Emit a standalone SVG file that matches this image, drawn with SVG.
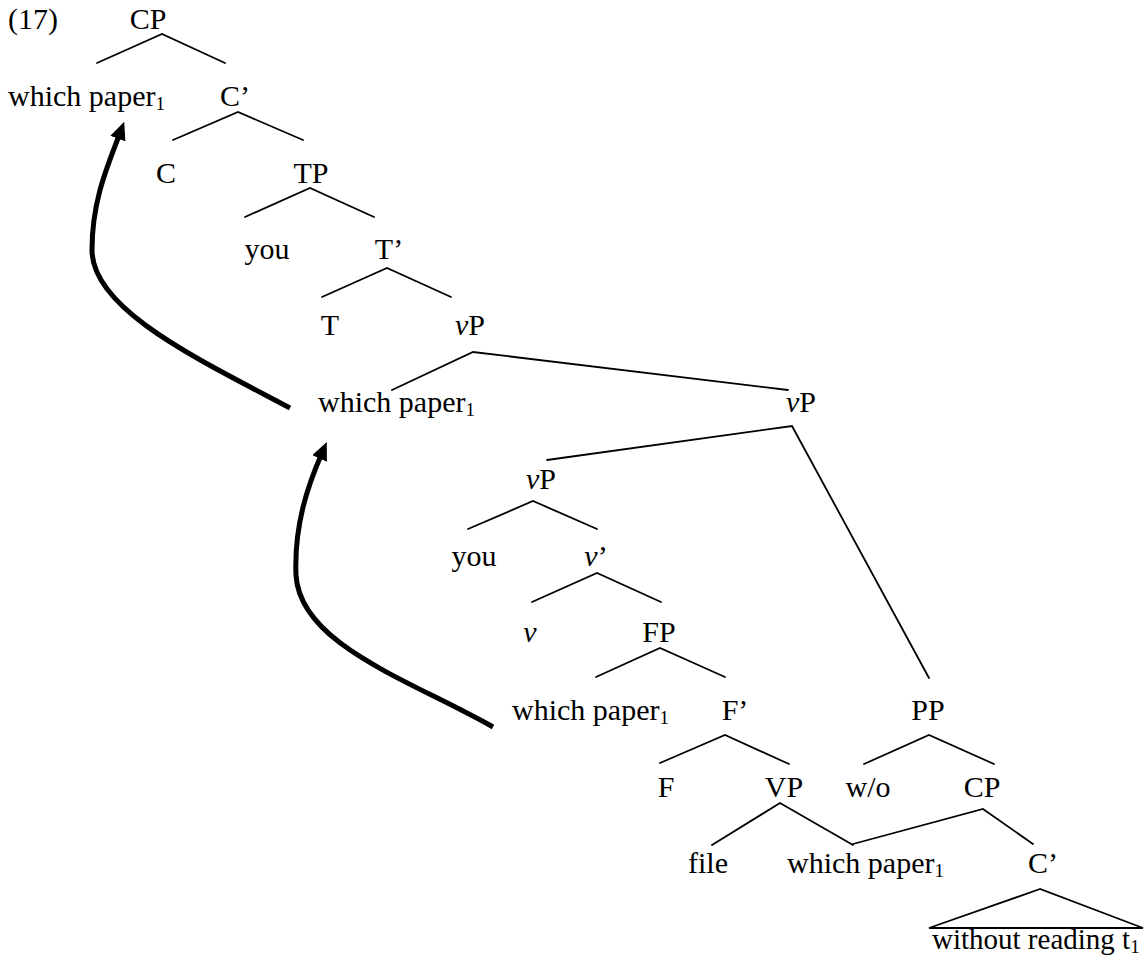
<svg xmlns="http://www.w3.org/2000/svg" width="1145" height="960" viewBox="0 0 1145 960">
<style>
text{font-family:"Liberation Serif",Tinos,"Times New Roman",Times,"Nimbus Roman","DejaVu Serif",serif;font-size:30px;fill:#000}
.m{text-anchor:middle}
.s{font-size:19px}
.i{font-style:italic}
.e line,.e polyline,.e polygon{stroke:#000;stroke-width:1.8;fill:none;stroke-linecap:round}
.mv{stroke:#000;stroke-width:5;fill:none}
</style>
<defs>
<marker id="ah" markerUnits="userSpaceOnUse" viewBox="0 0 18 16" markerWidth="18" markerHeight="16" refX="6" refY="8" orient="auto">
<path d="M0,0 L18,8 L0,16 z" fill="#000"/>
</marker>
</defs>
<rect width="1145" height="960" fill="#fff"/>
<g font-family="'Liberation Serif', 'Times New Roman', serif">
<g id="label17"><text x="8" y="29">(17)</text></g>
<g id="n-CP"><text class="m" x="148" y="29">CP</text></g>
<g id="n-wp1"><text x="8" y="106">which paper<tspan class="s" dy="4">1</tspan></text></g>
<g id="n-Cbar"><text class="m" x="235" y="106">C’</text></g>
<g id="n-C"><text class="m" x="166" y="183">C</text></g>
<g id="n-TP"><text class="m" x="311" y="183">TP</text></g>
<g id="n-you1"><text class="m" x="267" y="259">you</text></g>
<g id="n-Tbar"><text class="m" x="389" y="259">T’</text></g>
<g id="n-T"><text class="m" x="330" y="335">T</text></g>
<g id="n-vP1"><text class="m" x="470" y="335"><tspan class="i">v</tspan>P</text></g>
<g id="n-wp2"><text x="318" y="412">which paper<tspan class="s" dy="4">1</tspan></text></g>
<g id="n-vP2"><text class="m" x="801" y="412"><tspan class="i">v</tspan>P</text></g>
<g id="n-vP3"><text class="m" x="541" y="489"><tspan class="i">v</tspan>P</text></g>
<g id="n-you2"><text class="m" x="474" y="566">you</text></g>
<g id="n-vbar"><text class="m" x="596" y="566"><tspan class="i">v</tspan>’</text></g>
<g id="n-v"><text class="m i" x="530" y="642">v</text></g>
<g id="n-FP"><text class="m" x="659" y="642">FP</text></g>
<g id="n-wp3"><text x="512" y="720">which paper<tspan class="s" dy="4">1</tspan></text></g>
<g id="n-Fbar"><text class="m" x="735" y="720">F’</text></g>
<g id="n-PP"><text class="m" x="928" y="720">PP</text></g>
<g id="n-F"><text class="m" x="666" y="797">F</text></g>
<g id="n-VP"><text class="m" x="784" y="797">VP</text></g>
<g id="n-wo"><text class="m" x="868" y="797">w/o</text></g>
<g id="n-CP2"><text class="m" x="982" y="797">CP</text></g>
<g id="n-file"><text class="m" x="708" y="873">file</text></g>
<g id="n-wp4"><text x="787" y="873">which paper<tspan class="s" dy="4">1</tspan></text></g>
<g id="n-Cbar2"><text class="m" x="1043" y="873">C’</text></g>
<g id="n-without"><text x="932" y="949" style="font-size:29px">without reading t<tspan class="s" dy="4">1</tspan></text></g>
</g>
<g id="edges" class="e">
<polyline points="97,63 162,34 225,63"/>
<polyline points="173,140 238,112 303,140"/>
<polyline points="245,217 310,188 374,217"/>
<polyline points="322,297 387,268 451,297"/>
<polyline points="392,390 473,352 788,390"/>
<polyline points="547,460 792,426 929,678"/>
<polyline points="468,529 533,501 597,529"/>
<polyline points="532,602 597,573 661,602"/>
<polyline points="596,677 660,648 725,677"/>
<polyline points="660,763 725,735 789,764"/>
<polyline points="864,764 929,735 994,764"/>
<polyline points="712,845 780,803 853,845"/>
<polyline points="853,844 983,809 1033,844"/>
<polygon points="1040,889 929,928 1143,928"/>
</g>
<g id="movement">
<path class="mv" d="M290,408 C200,360 92,310 92,250 C92,200 108,165 120,133" marker-end="url(#ah)"/>
<path class="mv" d="M493,727 C410,680 300,645 296,575 C294,525 308,485 322,453" marker-end="url(#ah)"/>
</g>
</svg>
